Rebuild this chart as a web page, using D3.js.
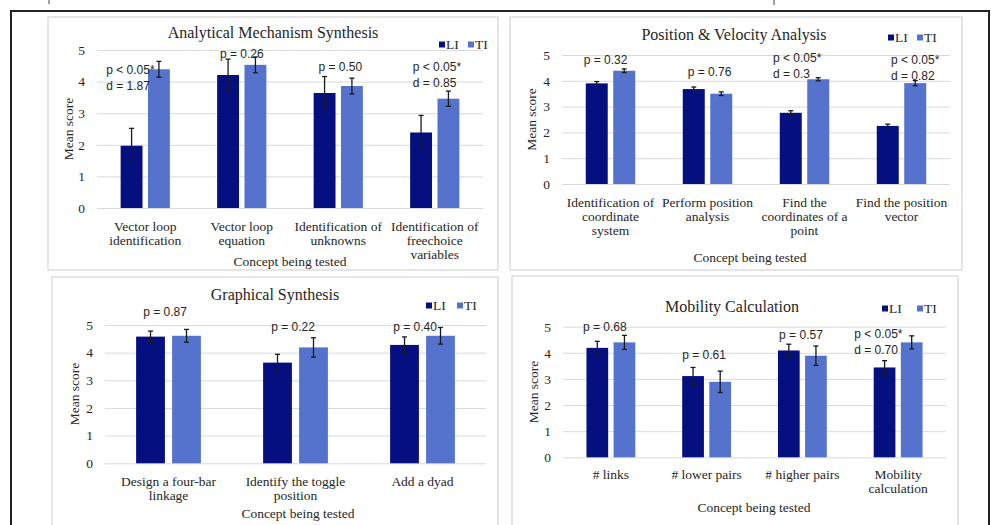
<!DOCTYPE html>
<html><head><meta charset="utf-8">
<script src="https://cdn.jsdelivr.net/npm/d3@7"></script>
<style>body{margin:0;background:#fff} svg{display:block}</style>
</head><body><svg id="c" width="995" height="525"></svg>
<script>
// ---------- DATA ----------
const seriesNames = ["LI", "TI"];
const yTickValues = [0, 1, 2, 3, 4, 5];
const xAxisTitle = "Concept being tested";
const yAxisTitle = "Mean score";

// Panel 1
const amsTitle = "Analytical Mechanism Synthesis";
const amsCategories = [["Vector loop", "identification"], ["Vector loop", "equation"], ["Identification of", "unknowns"], ["Identification of", "freechoice", "variables"]];
const amsLI = [1.97, 4.21, 3.64, 2.39];
const amsTI = [4.39, 4.53, 3.86, 3.46];
const amsLIErr = [0.55, 0.50, 0.52, 0.54];
const amsTIErr = [0.25, 0.25, 0.25, 0.24];
const amsNotes = [["p < 0.05*", "d = 1.87"], ["p = 0.26"], ["p = 0.50"], ["p < 0.05*", "d = 0.85"]];

// Panel 2
const pvaTitle = "Position & Velocity Analysis";
const pvaCategories = [["Identification of", "coordinate", "system"], ["Perform position", "analysis"], ["Find the", "coordinates of a", "point"], ["Find the position", "vector"]];
const pvaLI = [3.90, 3.68, 2.76, 2.25];
const pvaTI = [4.39, 3.50, 4.06, 3.91];
const pvaLIErr = [0.07, 0.08, 0.08, 0.07];
const pvaTIErr = [0.07, 0.07, 0.06, 0.10];
const pvaNotes = [["p = 0.32"], ["p = 0.76"], ["p < 0.05*", "d = 0.3"], ["p < 0.05*", "d = 0.82"]];

// Panel 3
const gsTitle = "Graphical Synthesis";
const gsCategories = [["Design a four-bar", "linkage"], ["Identify the toggle", "position"], ["Add a dyad"]];
const gsLI = [4.58, 3.64, 4.28];
const gsTI = [4.61, 4.19, 4.61];
const gsLIErr = [0.20, 0.30, 0.29];
const gsTIErr = [0.23, 0.35, 0.30];
const gsNotes = [["p = 0.87"], ["p = 0.22"], ["p = 0.40"]];

// Panel 4
const mcTitle = "Mobility Calculation";
const mcCategories = [["# links"], ["# lower pairs"], ["# higher pairs"], ["Mobility", "calculation"]];
const mcLI = [4.19, 3.11, 4.09, 3.44];
const mcTI = [4.40, 2.89, 3.89, 4.40];
const mcLIErr = [0.25, 0.33, 0.24, 0.26];
const mcTIErr = [0.27, 0.41, 0.37, 0.25];
const mcNotes = [["p = 0.68"], ["p = 0.61"], ["p = 0.57"], ["p < 0.05*", "d = 0.70"]];

// ---------- STYLE / LAYOUT ----------
const colors = {LI: "#060f80", TI: "#5573cc"};
const SERIF = "'Liberation Serif', 'Times New Roman', serif";
const SANS = "'Liberation Sans', Arial, sans-serif";
const TXT = "#262626";

const panels = [
  {title: amsTitle, cats: amsCategories, li: amsLI, ti: amsTI, liE: amsLIErr, tiE: amsTIErr, notes: amsNotes,
   box: [48, 17, 498, 270], plot: [97, 483, 208, 50], titlePos: [273, 38], legend: [439, 44.5, 29],
   yLab: [72.5, 129], xLabY: 231, xTitle: [290, 266],
   notePos: [{a: "start", dx: -39, v: 4.24}, {a: "middle", dx: 0, v: 4.76}, {a: "middle", dx: 2, v: 4.35}, {a: "start", dx: -22, v: 4.32}]},
  {title: pvaTitle, cats: pvaCategories, li: pvaLI, ti: pvaTI, liE: pvaLIErr, tiE: pvaTIErr, notes: pvaNotes,
   box: [510, 17, 962, 270], plot: [562, 950, 184, 55], titlePos: [734, 40], legend: [888, 37.5, 29],
   yLab: [536, 119.5], xLabY: 207, xTitle: [750, 262],
   notePos: [{a: "middle", dx: -5, v: 4.67}, {a: "middle", dx: 2, v: 4.17}, {a: "start", dx: -31.5, v: 4.71}, {a: "start", dx: -10.5, v: 4.67}]},
  {title: gsTitle, cats: gsCategories, li: gsLI, ti: gsTI, liE: gsLIErr, tiE: gsTIErr, notes: gsNotes,
   box: [52, 277, 498, 545], plot: [105, 486, 463.3, 325], titlePos: [275, 300], legend: [426, 305.5, 31],
   yLab: [79, 394], xLabY: 486, xTitle: [298, 518],
   notePos: [{a: "middle", dx: -3.5, v: 5.34}, {a: "middle", dx: -2.5, v: 4.80}, {a: "middle", dx: -7.5, v: 4.80}]},
  {title: mcTitle, cats: mcCategories, li: mcLI, ti: mcTI, liE: mcLIErr, tiE: mcTIErr, notes: mcNotes,
   box: [512, 276, 958, 545], plot: [563, 946, 457.3, 326.7], titlePos: [732, 312], legend: [882, 308.5, 35],
   yLab: [538, 392], xLabY: 479, xTitle: [754, 512],
   notePos: [{a: "middle", dx: -6, v: 4.85}, {a: "middle", dx: -2.6, v: 3.78}, {a: "middle", dx: -1.4, v: 4.51}, {a: "start", dx: -44, v: 4.58}]}
];

const svg = d3.select("#c");

// outer frame and fragments from the cropped page above
svg.append("path").attr("d", "M11,540V11H989V540").attr("fill", "none").attr("stroke", "#222").attr("stroke-width", 2);
svg.append("line").attr("x1", 49).attr("x2", 49).attr("y1", 0).attr("y2", 4).attr("stroke", "#444").attr("stroke-width", 1);
svg.append("line").attr("x1", 774).attr("x2", 774).attr("y1", 0).attr("y2", 5).attr("stroke", "#444").attr("stroke-width", 1);

function drawPanel(p) {
  const g = svg.append("g");
  const [bx0, by0, bx1, by1] = p.box;
  g.append("rect").attr("x", bx0).attr("y", by0).attr("width", bx1 - bx0).attr("height", by1 - by0)
    .attr("fill", "#fff").attr("stroke", "#d9d9d9").attr("stroke-width", 1.3);

  const [px0, px1, py0, py1] = p.plot;
  const idx = d3.range(p.cats.length);
  const x = d3.scaleBand().domain(idx).range([px0, px1]);
  const bw = x.bandwidth();
  const xi = d3.scaleBand().domain(seriesNames).range([bw * 0.245, bw * 0.755]).paddingInner(0.2);
  const y = d3.scaleLinear().domain([0, 5]).range([py0, py1]);

  const ax = g.append("g").attr("transform", `translate(${px0},0)`)
    .call(d3.axisLeft(y).tickValues(yTickValues).tickSize(-(px1 - px0)).tickPadding(12).tickFormat(d3.format("d")));
  ax.select(".domain").remove();
  ax.selectAll(".tick line").attr("stroke", "#d9d9d9").attr("stroke-width", 1);
  ax.selectAll(".tick text").attr("font-family", SERIF).attr("font-size", 13.5).attr("fill", TXT);

  const rows = idx.map(i => ({i, vals: [
    {s: "LI", v: p.li[i], e: p.liE[i]},
    {s: "TI", v: p.ti[i], e: p.tiE[i]}]}));

  const grp = g.selectAll(".grp").data(rows).join("g").attr("transform", d => `translate(${x(d.i)},0)`);
  grp.selectAll("rect").data(d => d.vals).join("rect")
    .attr("x", d => xi(d.s)).attr("width", xi.bandwidth())
    .attr("y", d => y(d.v)).attr("height", d => y(0) - y(d.v))
    .attr("fill", d => colors[d.s]);
  const eb = grp.selectAll(".eb").data(d => d.vals).join("g").attr("class", "eb");
  eb.append("line").attr("x1", d => xi(d.s) + xi.bandwidth() / 2).attr("x2", d => xi(d.s) + xi.bandwidth() / 2)
    .attr("y1", d => y(d.v + d.e)).attr("y2", d => y(d.v - d.e));
  eb.append("line").attr("x1", d => xi(d.s) + xi.bandwidth() / 2 - 2.5).attr("x2", d => xi(d.s) + xi.bandwidth() / 2 + 2.5)
    .attr("y1", d => y(d.v + d.e)).attr("y2", d => y(d.v + d.e));
  eb.append("line").attr("x1", d => xi(d.s) + xi.bandwidth() / 2 - 2.5).attr("x2", d => xi(d.s) + xi.bandwidth() / 2 + 2.5)
    .attr("y1", d => y(d.v - d.e)).attr("y2", d => y(d.v - d.e));
  eb.selectAll("line").attr("stroke", "#1a1a1a").attr("stroke-width", 1.3);

  // category labels
  const xl = g.selectAll(".xl").data(idx).join("text")
    .attr("text-anchor", "middle").attr("font-family", SERIF).attr("font-size", 13.5).attr("fill", TXT);
  xl.selectAll("tspan").data(i => p.cats[i].map(t => ({t, cx: x(i) + bw / 2}))).join("tspan")
    .attr("x", d => d.cx).attr("y", (d, k) => p.xLabY + k * 14).text(d => d.t);

  // annotations
  const nt = g.selectAll(".nt").data(idx).join("text")
    .attr("text-anchor", i => p.notePos[i].a).attr("font-family", SANS).attr("font-size", 12).attr("fill", TXT);
  nt.selectAll("tspan").data(i => p.notes[i].map(t => ({t, xx: x(i) + bw / 2 + p.notePos[i].dx, yy: y(p.notePos[i].v)}))).join("tspan")
    .attr("x", d => d.xx).attr("y", (d, k) => d.yy + k * 16).text(d => d.t);

  // title
  g.append("text").attr("x", p.titlePos[0]).attr("y", p.titlePos[1]).attr("text-anchor", "middle")
    .attr("font-family", SERIF).attr("font-size", 16).attr("fill", TXT).text(p.title);

  // axis titles
  g.append("text").attr("x", p.xTitle[0]).attr("y", p.xTitle[1]).attr("text-anchor", "middle")
    .attr("font-family", SERIF).attr("font-size", 13.5).attr("fill", TXT).text(xAxisTitle);
  g.append("text").attr("transform", `translate(${p.yLab[0]},${p.yLab[1]}) rotate(-90)`).attr("text-anchor", "middle")
    .attr("font-family", SERIF).attr("font-size", 13.5).attr("fill", TXT).text(yAxisTitle);

  // legend
  const [lx, ly, lgap] = p.legend;
  const lg = g.selectAll(".lg").data(seriesNames).join("g").attr("transform", (d, k) => `translate(${lx + k * lgap},${ly})`);
  lg.append("rect").attr("x", 0).attr("y", -3).attr("width", 6).attr("height", 6).attr("fill", d => colors[d]);
  lg.append("text").attr("x", 7).attr("y", 4.7).attr("font-family", SERIF).attr("font-size", 13.5).attr("fill", TXT).text(d => d);
}

panels.forEach(drawPanel);
</script></body></html>
